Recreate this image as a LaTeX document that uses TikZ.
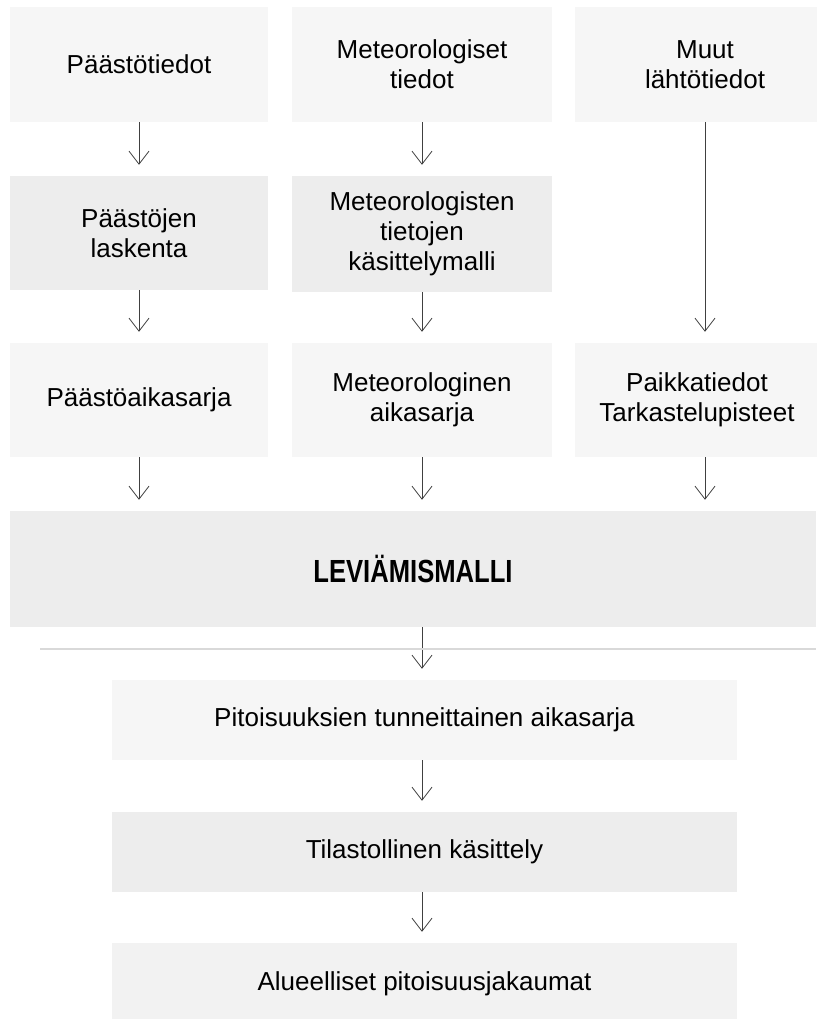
\documentclass[tikz,border=0pt]{standalone}
\usepackage{fontspec}
\setmainfont{Liberation Sans}
\newfontfamily\narrowbold[FakeStretch=0.8]{Liberation Sans Bold}
\usetikzlibrary{arrows.meta,positioning}
\newcommand{\boxfont}{\fontsize{26}{30}\selectfont}
\tikzset{%
	lightbox/.style = {fill=gray!7, minimum width=258pt, minimum height=115pt, align=center, inner sep=0pt, font=\boxfont},
	darkbox/.style  = {lightbox, fill=gray!14},
	flow/.style     = {draw=black!75, line width=0.8pt, -{Straight Barb[length=13pt,width=20pt]}, shorten >=11pt},
}
\begin{document}
\begin{tikzpicture}[x=1pt,y=-1pt]
	\useasboundingbox (0,0) rectangle (816,1019);
	% input data
	\node[lightbox] (ptied) at (139,64.5) {Päästötiedot};
	\node[lightbox, minimum width=260pt] (mtied) at (422,64.5) {Meteorologiset\\tiedot};
	\node[lightbox, minimum width=260pt] (muut) at (705,64.5) {Muut\\lähtötiedot};
	% processing
	\node[darkbox, minimum height=114pt] (plask) at (139,233) {Päästöjen\\laskenta};
	\node[darkbox, minimum width=260pt, minimum height=116pt] (mkas) at (422,234) {Meteorologisten\\tietojen\\käsittelymalli};
	% time series
	\node[lightbox, minimum height=114pt] (paika) at (139,400) {Päästöaikasarja};
	\node[lightbox, minimum width=260pt, minimum height=114pt] (maika) at (422,400) {Meteorologinen\\aikasarja};
	\node[lightbox, minimum width=244pt, minimum height=114pt] (paikka) at (697,400) {Paikkatiedot\\Tarkastelupisteet};
	% model and results
	\node[darkbox, minimum width=806pt, minimum height=116pt, font=\narrowbold\fontsize{32}{36}\selectfont] (lev) at (413,569) {LEVIÄMISMALLI};
	\node[lightbox, minimum width=625pt, minimum height=80pt] (pit) at (424.5,720) {Pitoisuuksien tunneittainen aikasarja};
	\node[darkbox, minimum width=625pt, minimum height=80pt] (til) at (424.5,852) {Tilastollinen käsittely};
	\node[lightbox, fill=gray!10, minimum width=625pt, minimum height=82pt] (alu) at (424.5,984) {Alueelliset pitoisuusjakaumat};
	% arrows
	\draw[flow] (ptied) -- (plask);
	\draw[flow] (mtied) -- (mkas);
	\draw[flow] (muut) -- (muut.south |- paikka.north);
	\draw[flow] (plask) -- (paika);
	\draw[flow] (mkas) -- (maika);
	\draw[flow] (paika) -- (paika.south |- lev.north);
	\draw[flow] (maika) -- (maika.south |- lev.north);
	\draw[flow] (paikka.south -| muut) -- (muut |- lev.north);
	\draw[flow] (lev.south -| maika) -- (maika |- pit.north);
	\draw[flow] (pit.south -| maika) -- (maika |- til.north);
	\draw[flow] (til.south -| maika) -- (maika |- alu.north);
	\draw[gray!30, line width=1.5pt] (40,649) -- (816,649);
\end{tikzpicture}
\end{document}
